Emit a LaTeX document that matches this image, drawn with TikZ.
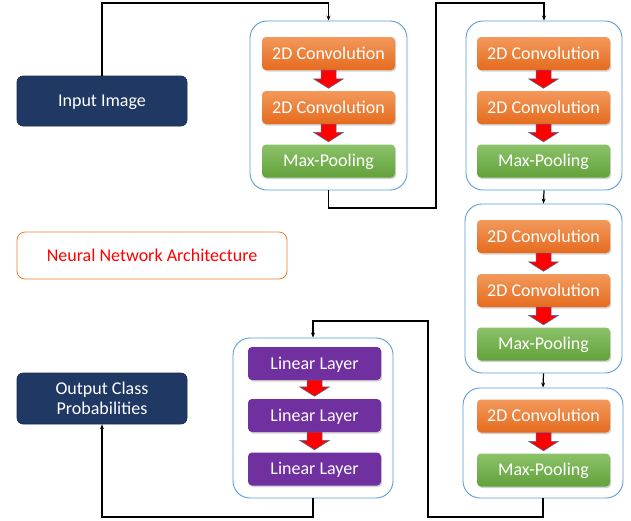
\documentclass[tikz,border=0pt]{standalone}
\usepackage{fontspec}
\setmainfont{Carlito}
\usetikzlibrary{calc,shadows,arrows.meta}
\definecolor{navy}{HTML}{203864}
\definecolor{orgtop}{HTML}{F3995B}
\definecolor{orgbot}{HTML}{E56B1E}
\definecolor{grntop}{HTML}{8CC26A}
\definecolor{grnbot}{HTML}{62A23A}
\definecolor{purp}{HTML}{7030A0}
\definecolor{contb}{HTML}{5B9BD5}
\definecolor{nnab}{HTML}{ED7D31}
\definecolor{arredge}{HTML}{4A6A9C}
\tikzset{
  txt/.style={font=\fontsize{18}{21}\selectfont},
  oneline/.style={text height=15.6pt, text depth=4pt},
  endbox/.style={txt, draw=navy!80!black, line width=0.6pt, fill=navy, text=white, rounded corners=6pt, minimum width=170pt, minimum height=50pt, align=center, inner sep=0pt},
  cont/.style={draw=contb, line width=0.9pt, rounded corners=17pt, fill=white, inner sep=0pt},
  layer/.style={txt, oneline, text=white, rounded corners=4pt, minimum width=133pt, minimum height=33pt, inner sep=0pt, drop shadow={opacity=0.35, shadow xshift=1.2pt, shadow yshift=-1.5pt}},
  conv/.style={layer, top color=orgtop, bottom color=orgbot},
  pool/.style={layer, top color=grntop, bottom color=grnbot},
  lin/.style={layer, fill=purp},
  conn/.style={draw=black, line width=1.2pt, -{Stealth[length=5pt,width=4pt]}},
  blockarr/.style={fill=red, draw=arredge, line width=0.5pt, line join=miter},
}
\newcommand\blockarrow[2]{%
  \draw[blockarr] let \p1=(#1), \p2=(#2) in
    (\x1-7.5pt,\y1) -- (\x1+7.5pt,\y1) -- (\x1+7.5pt,\y2+12pt) -- (\x1+15pt,\y2+12pt)
    -- (\x1,\y2+2.5pt) -- (\x1-15pt,\y2+12pt) -- (\x1-7.5pt,\y2+12pt) -- cycle;}
\begin{document}
\begin{tikzpicture}[x=1pt,y=-1pt]
\useasboundingbox (0,0) rectangle (631,520);
% end boxes
\node[endbox, oneline] (in) at (102,101) {Input Image};
\node[endbox, minimum height=51pt] (out) at (102,398.5) {Output Class\\[-1pt]Probabilities};
\node[txt, oneline, draw=nnab, line width=0.8pt, rounded corners=8pt, minimum width=270pt, minimum height=47pt, text=red, inner sep=0pt] (nna) at (152,255.5) {Neural Network Architecture};
% containers
\node[cont, minimum width=157pt, minimum height=169pt] (c1) at (328.5,105.5) {};
\node[cont, minimum width=156pt, minimum height=169pt] (c2) at (544,105.5) {};
\node[cont, minimum width=157pt, minimum height=169pt] (c3) at (543.5,288.5) {};
\node[cont, minimum width=160pt, minimum height=110pt] (c4) at (543,443) {};
\node[cont, minimum width=160pt, minimum height=160pt] (c5) at (313,418) {};
% block 1
\node[conv] (a1) at (328.5,53.5) {2D Convolution};
\node[conv] (a2) at (328.5,107.5) {2D Convolution};
\node[pool] (a3) at (328.5,161) {Max-Pooling};
% block 2
\node[conv] (b1) at (543.5,53.5) {2D Convolution};
\node[conv] (b2) at (543.5,107.5) {2D Convolution};
\node[pool] (b3) at (543.5,161) {Max-Pooling};
% block 3
\node[conv] (d1) at (543.5,236.5) {2D Convolution};
\node[conv] (d2) at (543.5,290.5) {2D Convolution};
\node[pool] (d3) at (543.5,344) {Max-Pooling};
% block 4
\node[conv] (e1) at (543.5,416) {2D Convolution};
\node[pool] (e2) at (543.5,470) {Max-Pooling};
% block 5
\node[lin] (f1) at (314.5,363.5) {Linear Layer};
\node[lin] (f2) at (314.5,415.5) {Linear Layer};
\node[lin] (f3) at (314.5,469) {Linear Layer};
% block arrows
\blockarrow{a1.south}{a2.north}
\blockarrow{a2.south}{a3.north}
\blockarrow{b1.south}{b2.north}
\blockarrow{b2.south}{b3.north}
\blockarrow{d1.south}{d2.north}
\blockarrow{d2.south}{d3.north}
\blockarrow{e1.south}{e2.north}
\blockarrow{f1.south}{f2.north}
\blockarrow{f2.south}{f3.north}
% routing coordinates
\coordinate (top) at (0,3);
\coordinate (bot) at (0,517);
\coordinate (j1) at (436,208);
\coordinate (j2) at (428,321);
% connectors
\draw[conn] (in.north) -- (in.north |- top) -| (c1.north);
\draw[conn] (c1.south) |- (j1) -- (j1 |- top) -| (c2.north);
\draw[conn] (c2.south) -- (c3.north);
\draw[conn] (c3.south) -- (c4.north);
\draw[conn] (c4.south) |- (bot -| j2) -- (j2) -| (c5.north);
\draw[conn] (c5.south) |- (bot -| out.south) -- (out.south);
\end{tikzpicture}
\end{document}
